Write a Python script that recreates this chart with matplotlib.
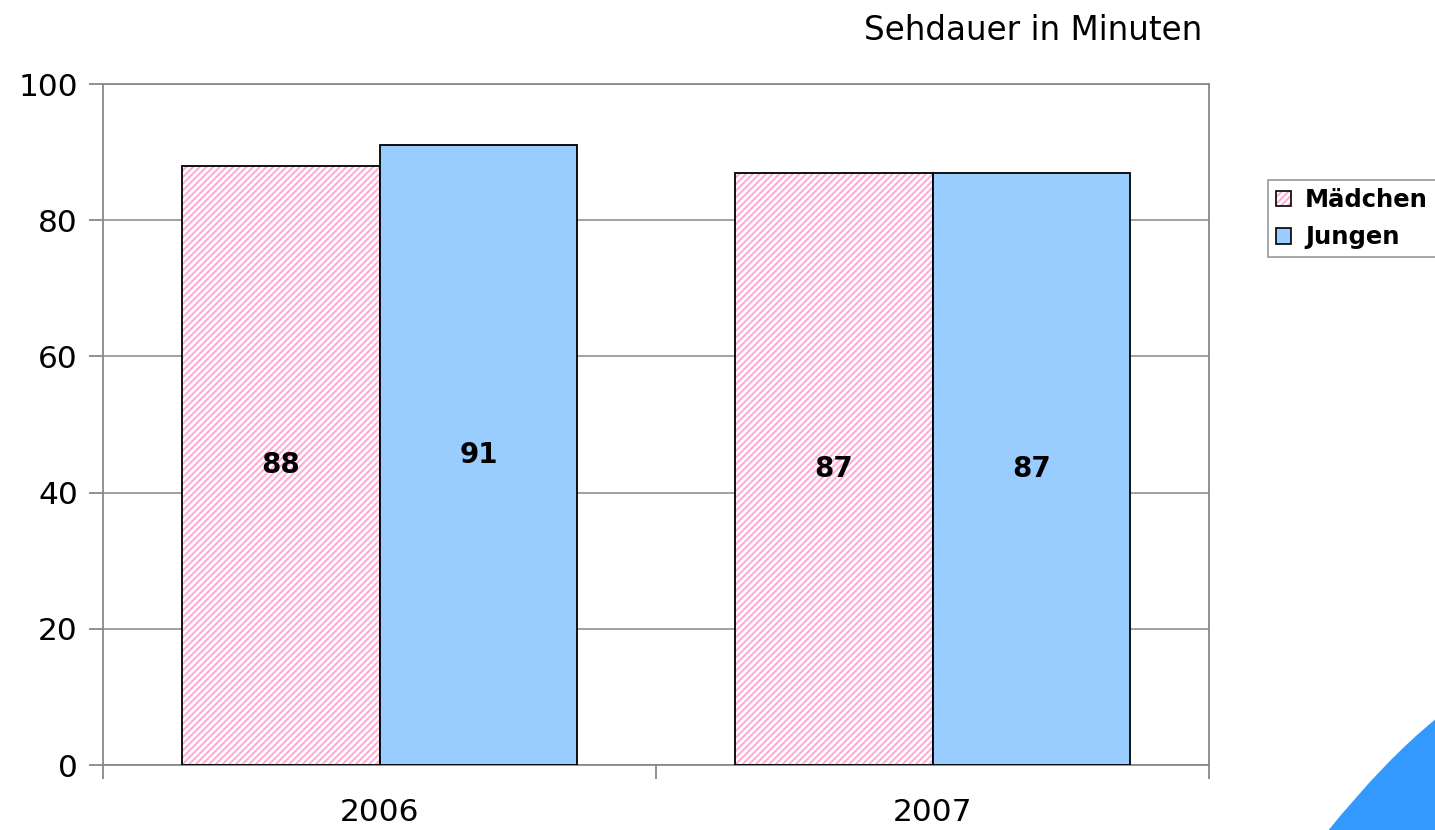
import matplotlib
matplotlib.use("Agg")
import matplotlib.pyplot as plt
import numpy as np
from matplotlib.patches import Patch, PathPatch
from matplotlib.path import Path

plt.rcParams['font.family'] = ['DejaVu Sans']
plt.rcParams['hatch.linewidth'] = 1.4

years = ["2006", "2007"]
series_names = ["Mädchen", "Jungen"]
maedchen = [88, 87]
jungen = [91, 87]
yticks = [0, 20, 40, 60, 80, 100]
title = "Sehdauer in Minuten"

W, H = 1435, 830
fig = plt.figure(figsize=(W / 100, H / 100), dpi=100)
ax = fig.add_axes([103 / W, 1 - 765 / H, (1209 - 103) / W, (765 - 84) / H])

x = np.arange(len(years))
bw = 0.358
pink = '#ffa8d4'
blue = '#99ccff'
hatch = '/////'

# Mädchen: hatched
ax.bar(x - bw / 2, maedchen, width=bw, facecolor='white', edgecolor=pink,
       hatch=hatch, linewidth=0, zorder=2)
ax.bar(x - bw / 2, maedchen, width=bw, fill=False, edgecolor='black',
       linewidth=1.3, zorder=3)
# Jungen
ax.bar(x + bw / 2, jungen, width=bw, facecolor=blue, edgecolor='black',
       linewidth=1.3, zorder=3)

for xi, v in zip(x - bw / 2, maedchen):
    ax.text(xi, v / 2, str(v), ha='center', va='center', fontsize=20,
            fontweight='bold', zorder=4)
for xi, v in zip(x + bw / 2, jungen):
    ax.text(xi, v / 2, str(v), ha='center', va='center', fontsize=20,
            fontweight='bold', zorder=4)

ax.set_xlim(-0.5, len(years) - 0.5)
ax.set_ylim(0, 100)
ax.set_yticks(yticks)
ax.set_yticklabels([str(t) for t in yticks], fontsize=22.5)
ax.tick_params(axis='y', length=10, color='#888888', width=1.3, pad=8)

# category labels centered, ticks at category boundaries
ax.set_xticks(np.arange(len(years) + 1) - 0.5)
ax.set_xticklabels([])
ax.set_xticks(x, minor=True)
ax.set_xticklabels(years, minor=True, fontsize=22.5)
ax.tick_params(axis='x', which='major', length=10, color='#888888', width=1.3)
ax.tick_params(axis='x', which='minor', length=0, pad=24)

ax.yaxis.grid(True, color='#888888', linewidth=1.1, zorder=0)
ax.set_axisbelow(True)
for s in ax.spines.values():
    s.set_color('#888888')
    s.set_linewidth(1.3)

fig.text(1202 / W, 1 - 30 / H, title, ha='right', va='center', fontsize=23.5)

h_m = (Patch(facecolor='white', edgecolor=pink, hatch=hatch, linewidth=0),
       Patch(fill=False, edgecolor='black', linewidth=1.2))
h_j = Patch(facecolor=blue, edgecolor='black', linewidth=1.2)
leg = fig.legend([h_m, h_j], series_names, loc='upper left',
                 bbox_to_anchor=(1268 / W, 1 - 180 / H), frameon=True,
                 fancybox=False, edgecolor='#888888',
                 prop={'weight': 'bold', 'size': 17.5},
                 handlelength=0.6, handleheight=0.6, handletextpad=0.6,
                 labelspacing=0.55, borderpad=0.33, borderaxespad=0)
leg.get_frame().set_linewidth(1.3)

# corner decoration
def px(xp, yp):
    return (xp / W, 1 - yp / H)
verts = [px(1327, 832), px(1385, 760), px(1437, 718), px(1437, 832), px(1327, 832)]
codes = [Path.MOVETO, Path.CURVE3, Path.CURVE3, Path.LINETO, Path.CLOSEPOLY]
fig.patches.append(PathPatch(Path(verts, codes), transform=fig.transFigure,
                             facecolor='#3399ff', edgecolor='none'))

fig.savefig('out.png', dpi=100)
